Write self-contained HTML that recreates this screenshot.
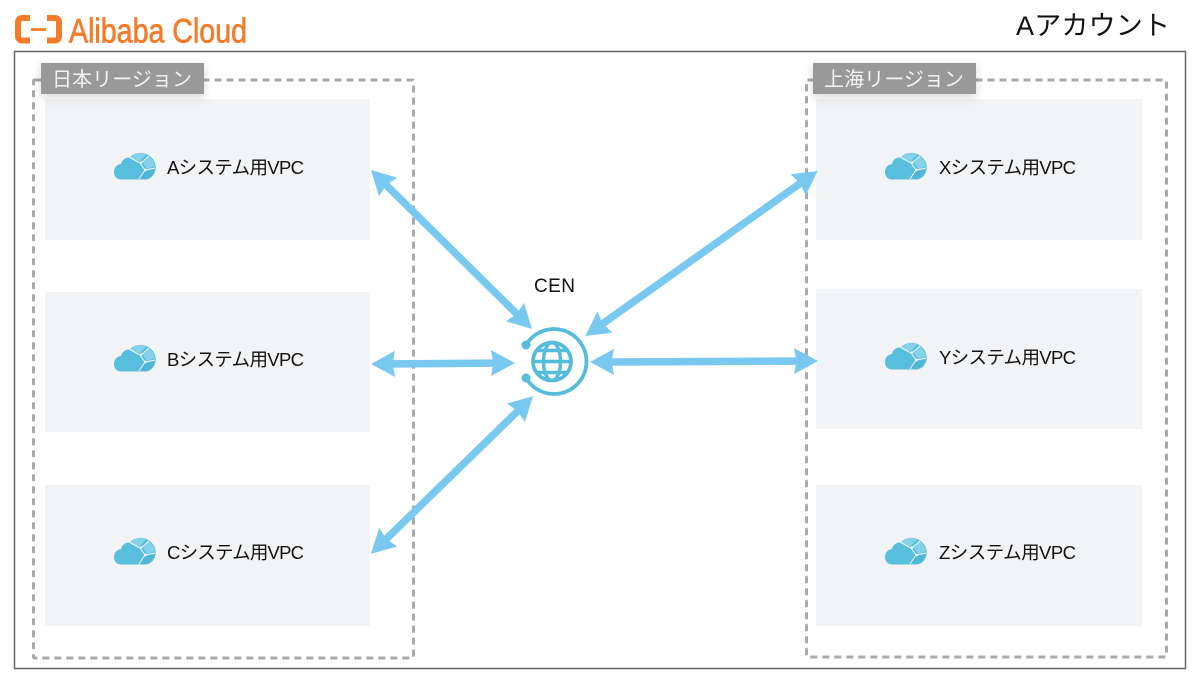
<!DOCTYPE html>
<html lang="ja">
<head>
<meta charset="utf-8">
<title>CEN diagram</title>
<style>
html,body{margin:0;padding:0;background:#fff;width:1200px;height:686px;overflow:hidden}
svg{display:block}
text{font-family:"Liberation Sans","Noto Sans CJK JP",sans-serif}
.v{font-size:18.5px;fill:#111}
.r{font-size:20px;fill:#f4f4f4}
</style>
</head>
<body>
<svg width="1200" height="686" viewBox="0 0 1200 686" xmlns="http://www.w3.org/2000/svg">
<defs>
<marker id="h" markerUnits="userSpaceOnUse" markerWidth="26" markerHeight="28" refX="17" refY="13" orient="auto-start-reverse">
<path d="M0 0L24 13L0 26L2.500 13Z" fill="#78c8f0"/>
</marker>
<filter id="s" x="-15%" y="-40%" width="130%" height="190%">
<feDropShadow dx="0" dy="3" stdDeviation="5" flood-color="#000" flood-opacity=".16"/>
</filter>
<g id="c">
<path d="M121 179.500C116 179.500 114 175.500 114 172C114 167.500 117 164.500 121 164C122 159.500 126 157 130 157.500C133 152.500 143 151 149 155.500C154 159 156.500 164 155.500 170C154.500 175.500 150 179.500 145 179.500Z" fill="#58bedd"/>
<path d="M131 157C134 153 142 152 146 154.500L140 161L133 160Z" fill="#86d2e8"/>
<path d="M149 156.500C152 159 155 163 155 166L147 169L143 163Z" fill="#86d2e8"/>
<path d="M143 171L154 170C153 175 149 178.500 145 179L140 178Z" fill="#4fb5d6"/>
<path d="M129 157L140 163L145 170L139 179" fill="none" stroke="#f2f6f8" stroke-width="1"/>
<path d="M141 163L149 156M146 170L155 168" fill="none" stroke="#f2f6f8" stroke-width="1"/>
<circle cx="141" cy="162.500" r="1.300" fill="#f2f6f8"/>
<circle cx="145.500" cy="170" r="1.300" fill="#f2f6f8"/>
</g>
</defs>

<!-- logo -->
<g fill="none" stroke="#f47b2a">
<path d="M30 18H22.500Q18 18 18 22.500V36Q18 40.500 22.500 40.500H30" stroke-width="6"/>
<path d="M47 18H54.500Q59 18 59 22.500V36Q59 40.500 54.500 40.500H47" stroke-width="6"/>
<path d="M31 29.500H46" stroke-width="2.800"/>
</g>
<text x="69" y="42.500" font-size="34" fill="#f47b2a" stroke="#f47b2a" stroke-width=".7" textLength="178" lengthAdjust="spacingAndGlyphs">Alibaba Cloud</text>

<text x="1016" y="35" font-size="27" fill="#111" textLength="154">Aアカウント</text>

<rect x="14.500" y="51.500" width="1171" height="617" fill="#fff" stroke="#666" stroke-width="1.500"/>

<!-- regions -->
<rect x="33.500" y="80" width="380" height="578" rx="1" fill="none" stroke="#a8a8a8" stroke-width="3" stroke-dasharray="7 5"/>
<rect x="806.500" y="80" width="360" height="577" rx="1" fill="none" stroke="#a8a8a8" stroke-width="3" stroke-dasharray="7 5"/>

<!-- panels -->
<g fill="#f2f3f5">
<rect x="45" y="99" width="325" height="141"/>
<rect x="45" y="292" width="325" height="140"/>
<rect x="45" y="485" width="325" height="141"/>
<rect x="816" y="99" width="326" height="141"/>
<rect x="816" y="289" width="326" height="140"/>
<rect x="816" y="485" width="326" height="141"/>
</g>

<!-- region labels -->
<rect x="41" y="63" width="163" height="31" fill="#999" filter="url(#s)"/>
<text class="r" x="52" y="86" textLength="140">日本リージョン</text>
<rect x="813" y="63" width="163" height="31" fill="#999" filter="url(#s)"/>
<text class="r" x="824" y="86" textLength="140">上海リージョン</text>

<!-- cloud icons -->
<use href="#c"/>
<use href="#c" y="192"/>
<use href="#c" y="385"/>
<use href="#c" x="771"/>
<use href="#c" x="771" y="190"/>
<use href="#c" x="771" y="385"/>

<!-- VPC labels -->
<text class="v" x="167" y="174" textLength="137">Aシステム用VPC</text>
<text class="v" x="167" y="366" textLength="137">Bシステム用VPC</text>
<text class="v" x="167" y="559" textLength="137">Cシステム用VPC</text>
<text class="v" x="939" y="174" textLength="137">Xシステム用VPC</text>
<text class="v" x="939" y="364" textLength="137">Yシステム用VPC</text>
<text class="v" x="939" y="559" textLength="137">Zシステム用VPC</text>

<text x="534" y="292" font-size="19" fill="#111" textLength="41">CEN</text>

<!-- arrows -->
<g stroke="#78c8f0" stroke-width="7.500" fill="none">
<line x1="376" y1="175" x2="527" y2="324" marker-start="url(#h)" marker-end="url(#h)"/>
<line x1="378" y1="364" x2="508" y2="363" marker-start="url(#h)" marker-end="url(#h)"/>
<line x1="376" y1="549" x2="528" y2="401" marker-start="url(#h)" marker-end="url(#h)"/>
<line x1="812" y1="175" x2="591" y2="332" marker-start="url(#h)" marker-end="url(#h)"/>
<line x1="597" y1="362" x2="811" y2="361" marker-start="url(#h)" marker-end="url(#h)"/>
</g>

<!-- CEN globe -->
<g fill="none" stroke="#55bcdc">
<path d="M526 345A32.500 32.500 0 1 1 526 378" stroke-width="3.800"/>
<circle cx="552" cy="361.500" r="19" stroke-width="3.800"/>
<ellipse cx="552" cy="361.500" rx="8.500" ry="19" stroke-width="3.500"/>
<path d="M537 350.500H567M533.500 361.500H570.500M537 372.500H567" stroke-width="3.500"/>
</g>
<circle cx="526" cy="345" r="4.500" fill="#55bcdc"/>
<circle cx="526" cy="378" r="4.500" fill="#55bcdc"/>
</svg>
</body>
</html>
